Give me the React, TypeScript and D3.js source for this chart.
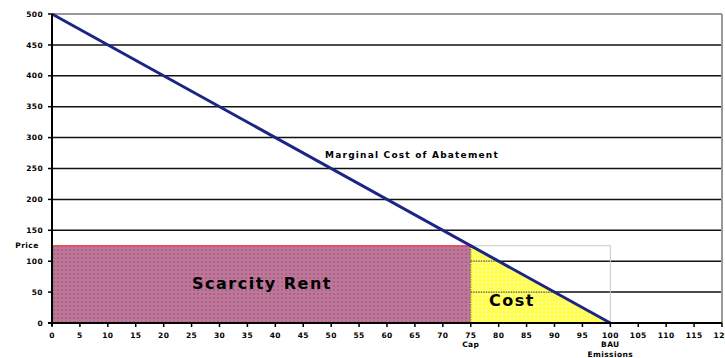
import React from "react";
import * as d3 from "d3";

const yTicks = [0, 50, 100, 150, 200, 250, 300, 350, 400, 450, 500];
const xTicks = [0, 5, 10, 15, 20, 25, 30, 35, 40, 45, 50, 55, 60, 65, 70, 75, 80, 85, 90, 95, 100, 105, 110, 115, 120];
const mcaLine: [number, number][] = [[0, 500], [100, 0]];
const capQty = 75;
const bauQty = 100;
const price = 125;

const W = 725, H = 358;

export default function App() {
  const x = d3.scaleLinear().domain([0, 120]).range([52, 722]);
  const y = d3.scaleLinear().domain([0, 500]).range([323, 14]);
  const line = d3.line<[number, number]>().x(d => x(d[0])).y(d => y(d[1]));
  const font = "'DejaVu Sans', Arial, sans-serif";
  const priceAtBau = 500 - 5 * bauQty; // 0
  const triangle: [number, number][] = [[capQty, 0], [capQty, price], [bauQty, priceAtBau]];
  const tickStyle = { fontFamily: font, fontWeight: "bold" as const, fontSize: 7.5, letterSpacing: 0.4 };
  return (
    <div style={{ position: "absolute", left: 0, top: 0 }}>
      <svg width={W} height={H} style={{ display: "block" }}>
        <defs>
          <pattern id="rent" width="4" height="4" patternUnits="userSpaceOnUse">
            <rect width="4" height="4" fill="#d8699f" />
            <rect x="1" y="1" width="2" height="2" fill="#5f8c78" />
          </pattern>
          <pattern id="cost" width="4" height="4" patternUnits="userSpaceOnUse">
            <rect width="4" height="4" fill="#ffff55" />
            <rect x="2" y="2" width="1" height="1" fill="#ffffff" />
          </pattern>
        </defs>
        <rect width={W} height={H} fill="#fff" />
        {/* gridlines */}
        {yTicks.filter(t => t > 0 && t < 500).map(t => (
          <line key={t} x1={x(0)} x2={x(120)} y1={y(t)} y2={y(t)} stroke="#111" strokeWidth={1.5} />
        ))}
        {/* frame top & right */}
        <line x1={x(0)} x2={x(120)} y1={y(500)} y2={y(500)} stroke="#999" strokeWidth={2} />
        <line x1={x(120)} x2={x(120)} y1={y(500)} y2={y(0)} stroke="#999" strokeWidth={2} />
        {/* scarcity rent */}
        <rect x={x(0)} y={y(price)} width={x(capQty) - x(0)} height={y(0) - y(price)} fill="url(#rent)" />
        <line x1={x(0)} x2={x(capQty)} y1={y(price)} y2={y(price)} stroke="#ff2020" strokeWidth={1.2} />
        <line x1={x(capQty)} x2={x(capQty)} y1={y(price)} y2={y(0)} stroke="#ff2020" strokeWidth={1.2} />
        {/* box outline */}
        <rect x={x(capQty)} y={y(price)} width={x(bauQty) - x(capQty)} height={y(0) - y(price)} fill="none" stroke="#c8c8c8" strokeWidth={1} />
        {/* cost triangle */}
        <path d={line(triangle) + "Z"} fill="url(#cost)" stroke="#6b6b30" strokeWidth={1} strokeDasharray="1.5,1" />
        {[50, 100].map(t => (
          <line key={t} x1={x(capQty)} x2={x(bauQty - t / 5)} y1={y(t)} y2={y(t)} stroke="#555" strokeWidth={1.2} strokeDasharray="1.5,1" />
        ))}
        {/* MCA line */}
        <path d={line(mcaLine) ?? ""} fill="none" stroke="#1a2585" strokeWidth={3} />
        {/* axes */}
        <line x1={x(0)} x2={x(0)} y1={y(500)} y2={y(0) + 3} stroke="#000" strokeWidth={2} />
        <line x1={x(0) - 4} x2={x(120)} y1={y(0)} y2={y(0)} stroke="#000" strokeWidth={2} />
        {yTicks.map(t => (
          <g key={t}>
            <line x1={x(0) - 4} x2={x(0)} y1={y(t)} y2={y(t)} stroke="#000" strokeWidth={1.5} />
            <text x={x(0) - 9} y={y(t)} dy="0.35em" textAnchor="end" {...tickStyle}>{t}</text>
          </g>
        ))}
        {xTicks.map(t => (
          <g key={t}>
            <line x1={x(t)} x2={x(t)} y1={y(0)} y2={y(0) + 4} stroke="#000" strokeWidth={1.5} />
            <text x={x(t)} y={y(0) + 15} textAnchor="middle" {...tickStyle}>{t}</text>
          </g>
        ))}
        <text x={x(capQty)} y={y(0) + 24} textAnchor="middle" {...tickStyle}>Cap</text>
        <text x={x(bauQty)} y={y(0) + 24} textAnchor="middle" {...tickStyle}>BAU</text>
        <text x={x(bauQty)} y={y(0) + 34} textAnchor="middle" {...tickStyle}>Emissions</text>
        <text x={27} y={y(price)} dy="0.35em" textAnchor="middle" {...tickStyle}>Price</text>
        <text x={412} y={158} textAnchor="middle" fontFamily={font} fontWeight="bold" fontSize={9} letterSpacing={1.2}>Marginal Cost of Abatement</text>
        <text x={262} y={289} textAnchor="middle" fontFamily={font} fontWeight="bold" fontSize={16} letterSpacing={1.5}>Scarcity Rent</text>
        <text x={512} y={306} textAnchor="middle" fontFamily={font} fontWeight="bold" fontSize={16} letterSpacing={1.5}>Cost</text>
      </svg>
    </div>
  );
}
